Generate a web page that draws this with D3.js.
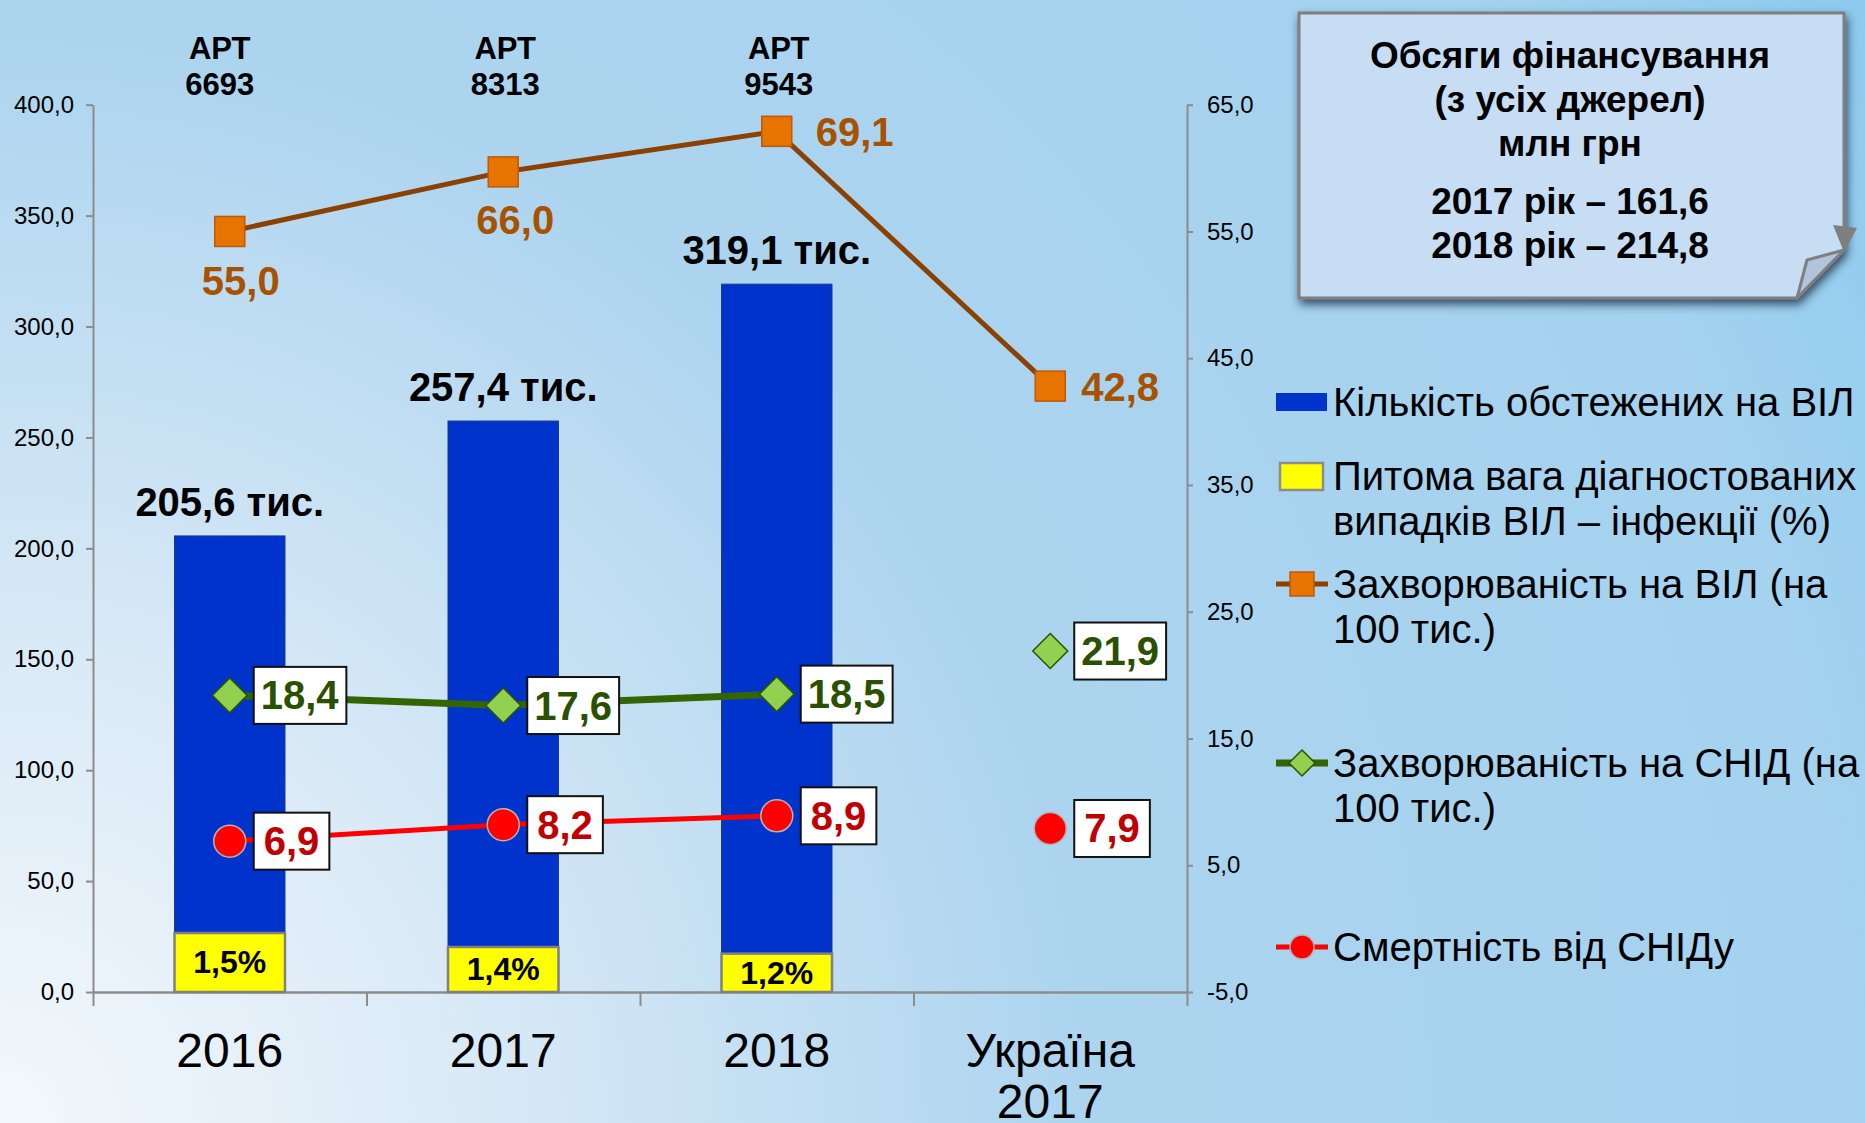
<!DOCTYPE html>
<html><head><meta charset="utf-8">
<script src="https://cdn.jsdelivr.net/npm/d3@7"></script>
<style>
html,body{margin:0;padding:0;overflow:hidden;}
svg{display:block;font-family:"Liberation Sans",Arial,sans-serif;}
</style></head>
<body>
<script>
// ---------- DATA ----------
const categories = ["2016", "2017", "2018", "Україна\n2017"];
const tested = [205.6, 257.4, 319.1];                       // тис. (left axis)
const testedLabels = ["205,6 тис.", "257,4 тис.", "319,1 тис."];
const positiveShare = [1.5, 1.4, 1.2];                      // %
const positiveShareDrawn = [26.6, 20.3, 17.3];              // height as drawn (left axis units)
const artCount = [6693, 8313, 9543];
const hivIncidence = [55.0, 66.0, 69.1, 42.8];              // labels
const hivIncidenceDrawn = [55.0, 59.7, 62.9, 42.8];         // marker positions as drawn (right axis)
const aidsIncidence = [18.4, 17.6, 18.5, 21.9];
const aidsMortality = [6.9, 8.2, 8.9, 7.9];
const leftTicks = [0, 50, 100, 150, 200, 250, 300, 350, 400];
const rightTicks = [-5, 5, 15, 25, 35, 45, 55, 65];
const fundingLines = ["Обсяги фінансування", "(з усіх джерел)", "млн грн", "2017 рік – 161,6", "2018 рік – 214,8"];
const legendItems = [
  {type: "bar", lines: ["Кількість обстежених на ВІЛ"]},
  {type: "yellow", lines: ["Питома вага діагностованих", "випадків ВІЛ – інфекції (%)"]},
  {type: "square", lines: ["Захворюваність на ВІЛ (на", "100 тис.)"]},
  {type: "diamond", lines: ["Захворюваність на СНІД (на", "100 тис.)"]},
  {type: "circle", lines: ["Смертність від СНІДу"]}
];

const W = 1865, H = 1123;
const fmt = v => v.toFixed(1).replace(".", ",");

const svg = d3.select("body").append("svg").attr("width", W).attr("height", H);
const defs = svg.append("defs");
const rg = defs.append("radialGradient").attr("id", "bg").attr("gradientUnits", "userSpaceOnUse")
  .attr("cx", 0).attr("cy", H).attr("r", 2180);
rg.append("stop").attr("offset", 0).attr("stop-color", "#f3f8fc");
rg.append("stop").attr("offset", 0.2).attr("stop-color", "#dcebf7");
rg.append("stop").attr("offset", 0.5).attr("stop-color", "#acd4ef");
rg.append("stop").attr("offset", 0.85).attr("stop-color", "#a4d2ef");
rg.append("stop").attr("offset", 1).attr("stop-color", "#8ccaee");
const sh = defs.append("filter").attr("id", "shadow").attr("x", "-10%").attr("y", "-10%").attr("width", "125%").attr("height", "130%");
sh.append("feDropShadow").attr("dx", 2).attr("dy", 5).attr("stdDeviation", 5).attr("flood-color", "#1b3550").attr("flood-opacity", 0.85);

svg.append("rect").attr("width", W).attr("height", H).attr("fill", "url(#bg)");

// ---------- SCALES ----------
const x = d3.scaleBand().domain(categories).range([93, 1187]).paddingInner(0.596).paddingOuter(0.298);
const cx = c => x(c) + x.bandwidth() / 2;
const yL = d3.scaleLinear().domain([0, 400]).range([992, 104.7]);
const yR = d3.scaleLinear().domain([-5, 65]).range([992, 104.7]);

// ---------- AXES ----------
const axL = svg.append("g").attr("transform", "translate(93,0)")
  .call(d3.axisLeft(yL).tickValues(leftTicks).tickFormat(fmt).tickSize(7).tickPadding(12).tickSizeOuter(0));
const axR = svg.append("g").attr("transform", "translate(1187,0)")
  .call(d3.axisRight(yR).tickValues(rightTicks).tickFormat(fmt).tickSize(6).tickPadding(14).tickSizeOuter(0));
[axL, axR].forEach(a => {
  a.select(".domain").attr("stroke", "#8c8c8c").attr("stroke-width", 2);
  a.selectAll(".tick line").attr("stroke", "#8c8c8c").attr("stroke-width", 2);
  a.selectAll(".tick text").attr("font-size", 24).attr("fill", "#000").attr("font-family", "Liberation Sans, Arial, sans-serif");
});

// x axis
const xb = d3.scaleLinear().domain([0, categories.length]).range([93, 1187]);
const axX = svg.append("g").attr("transform", "translate(0,992)")
  .call(d3.axisBottom(xb).tickValues(d3.range(0, categories.length + 1)).tickFormat("").tickSize(14).tickSizeOuter(0));
axX.select(".domain").attr("stroke", "#8c8c8c").attr("stroke-width", 2.5);
axX.selectAll(".tick line").attr("stroke", "#8c8c8c").attr("stroke-width", 2);

categories.forEach(c => {
  const t = svg.append("text").attr("x", cx(c)).attr("y", 1067).attr("text-anchor", "middle")
    .attr("font-size", 48).attr("fill", "#000");
  c.split("\n").forEach((s, i) => t.append("tspan").attr("x", cx(c)).attr("dy", i ? 51 : 0).text(s));
});

// ---------- BARS ----------
const barCats = categories.slice(0, tested.length);
svg.selectAll("rect.bar").data(tested).join("rect").attr("class", "bar")
  .attr("x", (d, i) => x(barCats[i])).attr("width", x.bandwidth())
  .attr("y", d => yL(d)).attr("height", d => yL(0) - yL(d))
  .attr("fill", "#0033cc").attr("stroke", "#1d3c8c").attr("stroke-width", 1);

svg.selectAll("rect.yel").data(positiveShareDrawn).join("rect").attr("class", "yel")
  .attr("x", (d, i) => x(barCats[i])).attr("width", x.bandwidth())
  .attr("y", d => yL(d)).attr("height", d => yL(0) - yL(d))
  .attr("fill", "#ffff00").attr("stroke", "#808080").attr("stroke-width", 2.5);

svg.selectAll("text.yel").data(positiveShare).join("text").attr("class", "yel")
  .attr("x", (d, i) => cx(barCats[i])).attr("y", (d, i) => (yL(positiveShareDrawn[i]) + yL(0)) / 2 + 11)
  .attr("text-anchor", "middle").attr("font-size", 32).attr("font-weight", "bold").attr("fill", "#000")
  .text(d => fmt(d) + "%");

svg.selectAll("text.btop").data(tested).join("text").attr("class", "btop")
  .attr("x", (d, i) => cx(barCats[i])).attr("y", d => yL(d) - 20)
  .attr("text-anchor", "middle").attr("font-size", 40).attr("font-weight", "bold").attr("fill", "#000")
  .text((d, i) => testedLabels[i]);

// ART labels
const artShift = [-10, 2, 2];
artCount.forEach((v, i) => {
  const t = svg.append("text").attr("text-anchor", "middle").attr("font-size", 31).attr("font-weight", "bold").attr("fill", "#000");
  t.append("tspan").attr("x", cx(categories[i]) + artShift[i]).attr("y", 59).text("АРТ");
  t.append("tspan").attr("x", cx(categories[i]) + artShift[i]).attr("y", 95).text(String(v));
});

// ---------- LINES ----------
const lineGen = d3.line().defined(d => d.v != null).x(d => cx(d.c)).y(d => yR(d.v));
const hivPts = hivIncidenceDrawn.map((v, i) => ({c: categories[i], v}));
const aidsPts = aidsIncidence.map((v, i) => ({c: categories[i], v: i < 3 ? v : null}));
const mortPts = aidsMortality.map((v, i) => ({c: categories[i], v: i < 3 ? v : null}));

svg.append("path").datum(hivPts).attr("d", lineGen).attr("fill", "none").attr("stroke", "#8b4100").attr("stroke-width", 5);
svg.append("path").datum(aidsPts).attr("d", lineGen).attr("fill", "none").attr("stroke", "#336600").attr("stroke-width", 7);
svg.append("path").datum(mortPts).attr("d", lineGen).attr("fill", "none").attr("stroke", "#ff0000").attr("stroke-width", 5);

// markers
svg.selectAll("rect.sq").data(hivIncidenceDrawn).join("rect").attr("class", "sq")
  .attr("x", (d, i) => cx(categories[i]) - 15).attr("y", d => yR(d) - 15).attr("width", 30).attr("height", 30)
  .attr("fill", "#e87400").attr("stroke", "#c0580a").attr("stroke-width", 1.5);
const diamond = r => `M0,${-r}L${r},0L0,${r}L${-r},0Z`;
svg.selectAll("path.dia").data(aidsIncidence).join("path").attr("class", "dia")
  .attr("transform", (d, i) => `translate(${cx(categories[i])},${yR(d)})`).attr("d", diamond(17.5))
  .attr("fill", "#92d050").attr("stroke", "#2a5200").attr("stroke-width", 1.5);
svg.selectAll("circle.dot").data(aidsMortality).join("circle").attr("class", "dot")
  .attr("cx", (d, i) => cx(categories[i])).attr("cy", d => yR(d)).attr("r", 16)
  .attr("fill", "#ff0000").attr("stroke", "#b4b4b4").attr("stroke-width", 1.5);

// HIV labels
const hivLabelPos = [{dx: 11, dy: 64, a: "middle"}, {dx: 12, dy: 62, a: "middle"}, {dx: 39, dy: 15, a: "start"}, {dx: 31, dy: 15, a: "start"}];
hivIncidence.forEach((v, i) => {
  const p = hivLabelPos[i];
  svg.append("text").attr("x", cx(categories[i]) + p.dx).attr("y", yR(hivIncidenceDrawn[i]) + p.dy)
    .attr("text-anchor", p.a).attr("font-size", 40).attr("font-weight", "bold").attr("fill", "#a85200").text(fmt(v));
});

// boxed labels
function boxLabel(xc, yc, txt, color, pad) {
  const g = svg.append("g");
  const r = g.append("rect");
  const t = g.append("text").attr("x", xc + 24 + pad).attr("y", yc + 14).attr("font-size", 40).attr("font-weight", "bold")
    .attr("fill", color).text(txt);
  const bb = t.node().getBBox();
  r.attr("x", xc + 24).attr("y", yc - 28.5).attr("width", bb.width + 2 * pad).attr("height", 57)
    .attr("fill", "#fff").attr("stroke", "#111").attr("stroke-width", 2);
}
aidsIncidence.forEach((v, i) => boxLabel(cx(categories[i]), yR(v), fmt(v), "#2a5000", 7));
aidsMortality.forEach((v, i) => boxLabel(cx(categories[i]), yR(v), fmt(v), "#c00000", 10));

// ---------- INFO BOX ----------
const ib = svg.append("g");
ib.append("path").attr("d", "M1299,13H1844V250L1797,298H1299Z").attr("fill", "#c6ddf3")
  .attr("stroke", "#7f7f7f").attr("stroke-width", 3).attr("filter", "url(#shadow)");
ib.append("path").attr("d", "M1833,225L1857,228L1844,252Z").attr("fill", "#7f7f7f");
ib.append("path").attr("d", "M1844,250L1807,260L1797,298Z").attr("fill", "#b0c4dc").attr("stroke", "#7f7f7f").attr("stroke-width", 3).attr("stroke-linejoin", "round");
const ibY = [68, 112, 156, 214, 258];
fundingLines.forEach((s, i) => ib.append("text").attr("x", 1570).attr("y", ibY[i]).attr("text-anchor", "middle")
  .attr("font-size", 37).attr("font-weight", "bold").attr("fill", "#000").text(s));

// ---------- LEGEND ----------
const legY = [416, 490, 598, 777, 961];
const lg = svg.append("g");
legendItems.forEach((it, i) => {
  const by = legY[i];
  const my = by - 14;
  if (it.type === "bar") lg.append("rect").attr("x", 1276).attr("y", my - 9).attr("width", 51).attr("height", 18).attr("fill", "#0033cc");
  if (it.type === "yellow") lg.append("rect").attr("x", 1280).attr("y", my - 13).attr("width", 43).attr("height", 27).attr("fill", "#ffff00").attr("stroke", "#8c8c8c").attr("stroke-width", 2.5);
  if (it.type === "square") {
    lg.append("line").attr("x1", 1276).attr("x2", 1328).attr("y1", my).attr("y2", my).attr("stroke", "#8b4100").attr("stroke-width", 5);
    lg.append("rect").attr("x", 1290).attr("y", my - 12).attr("width", 24).attr("height", 24).attr("fill", "#e87400").attr("stroke", "#c0580a").attr("stroke-width", 1.5);
  }
  if (it.type === "diamond") {
    lg.append("line").attr("x1", 1276).attr("x2", 1328).attr("y1", my).attr("y2", my).attr("stroke", "#336600").attr("stroke-width", 7);
    lg.append("path").attr("transform", `translate(1302,${my})`).attr("d", diamond(13)).attr("fill", "#92d050").attr("stroke", "#2a5200").attr("stroke-width", 1.5);
  }
  if (it.type === "circle") {
    lg.append("line").attr("x1", 1276).attr("x2", 1328).attr("y1", my).attr("y2", my).attr("stroke", "#ff0000").attr("stroke-width", 5);
    lg.append("circle").attr("cx", 1302).attr("cy", my).attr("r", 12).attr("fill", "#ff0000").attr("stroke", "#b4b4b4").attr("stroke-width", 1.5);
  }
  const t = lg.append("text").attr("font-size", 40).attr("fill", "#000");
  it.lines.forEach((s, j) => t.append("tspan").attr("x", 1333).attr("y", by + j * 45).text(s));
});
</script>
</body></html>
